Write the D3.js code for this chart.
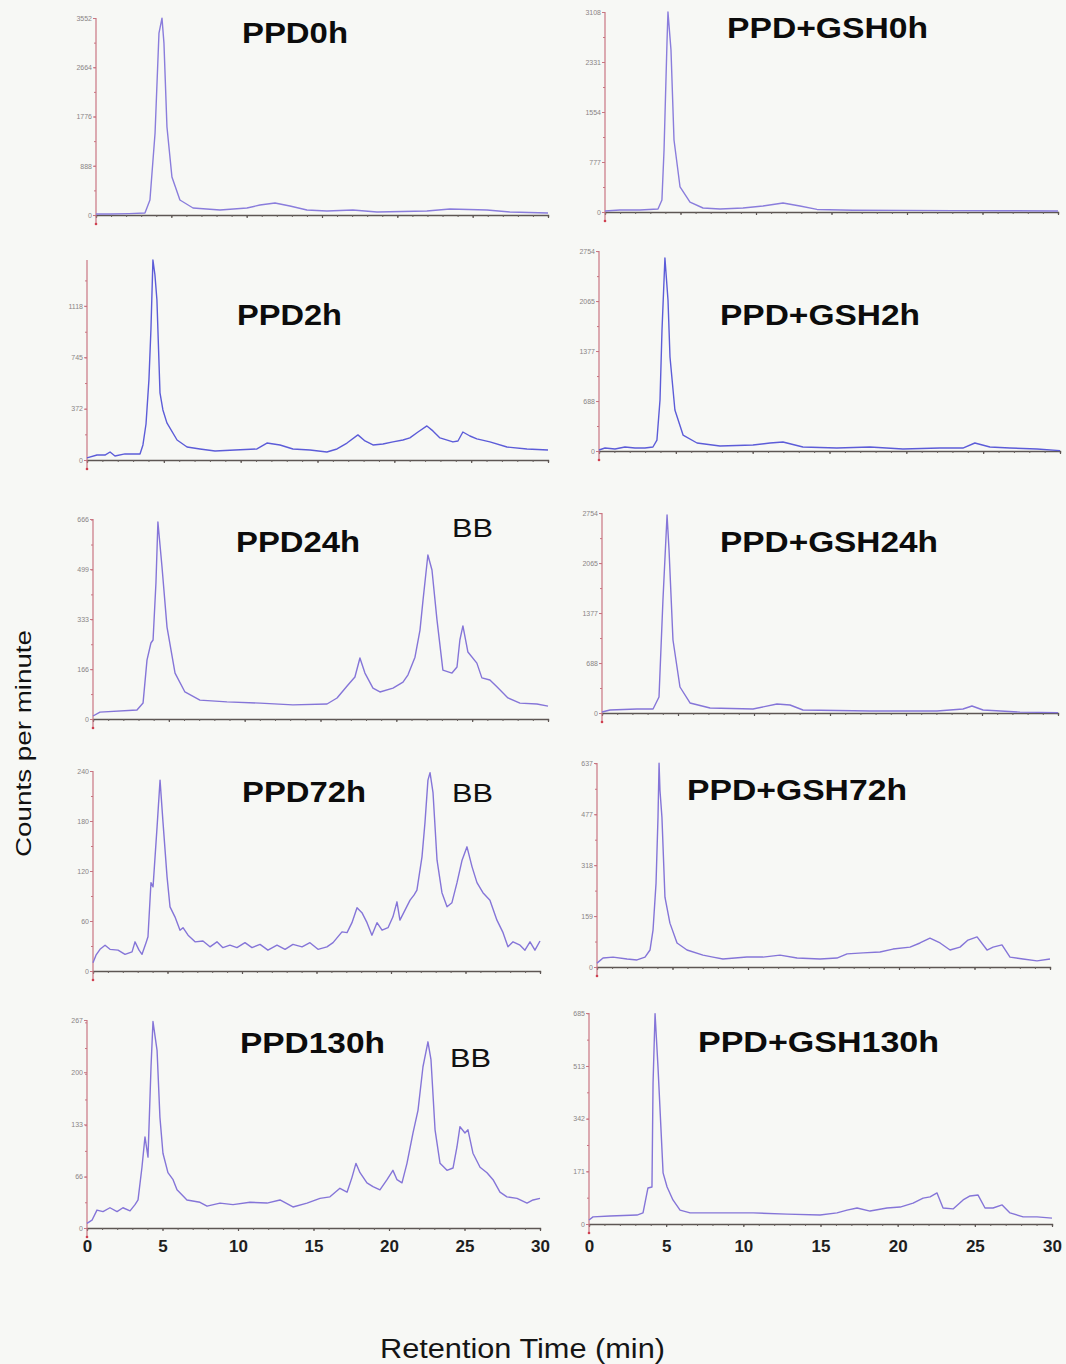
<!DOCTYPE html>
<html>
<head>
<meta charset="utf-8">
<script src="https://cdn.jsdelivr.net/npm/d3@7"></script>
<style>
  html, body { margin: 0; padding: 0; background: #f7f8f5; }
  svg { display: block; }
</style>
</head>
<body>
<svg id="chart" width="1066" height="1364"></svg>
<script>
// Radio-HPLC traces: [retention time (min), counts per minute]
const ppd0h = [[0,18],[0.93,18],[2.2,25],[3.25,36],[3.58,270],[3.92,1478],[4.18,3280],[4.38,3550],[4.51,3099],[4.71,1586],[5.04,685],[5.57,270],[6.44,126],[8.23,90],[10.02,126],[10.88,180],[11.88,216],[12.87,162],[14.0,90],[15.33,72],[17.05,90],[18.65,54],[21.96,72],[23.49,108],[25.95,90],[27.47,54],[30,36]];

const gsh0h = [[0,16],[0.99,31],[2.32,31],[3.51,47],[3.77,186],[3.91,963],[4.11,2673],[4.17,3108],[4.37,2517],[4.57,1119],[4.97,389],[5.63,155],[6.49,62],[7.62,47],[9.14,62],[10.46,93],[11.79,140],[12.91,93],[14.04,40],[16.42,28],[19.74,25],[23.05,22],[26.36,20],[30,15]];

const ppd2h = [[0,15],[0.65,36],[1.17,36],[1.5,58],[1.82,29],[2.47,44],[3.45,44],[3.64,109],[3.84,261],[4.03,581],[4.16,944],[4.29,1450],[4.42,1343],[4.55,1162],[4.75,487],[4.94,363],[5.2,269],[5.86,145],[6.51,94],[7.35,80],[8.33,65],[9.63,73],[11.06,80],[11.71,123],[12.56,109],[13.4,80],[14.51,73],[15.61,58],[16.27,80],[16.92,123],[17.63,182],[18.09,138],[18.61,109],[19.26,116],[19.91,131],[20.56,145],[21.01,160],[21.54,203],[22.12,247],[22.51,211],[22.97,160],[23.81,131],[24.14,138],[24.46,203],[24.92,174],[25.37,153],[26.22,131],[27.33,94],[28.63,80],[30,73]];

const gsh2h = [[0,14],[0.39,41],[1.04,28],[1.69,55],[2.34,41],[2.99,41],[3.51,55],[3.77,151],[3.97,702],[4.1,1666],[4.29,2658],[4.49,2079],[4.62,1294],[4.94,565],[5.47,220],[6.38,110],[7.87,69],[10.02,83],[11.13,110],[11.97,124],[13.27,55],[15.48,41],[17.63,55],[19.78,28],[22.19,41],[23.68,41],[24.46,110],[25.44,55],[26.74,41],[28.5,28],[30,5]];

const ppd24h = [[0,10],[0.46,23],[2.9,30],[3.3,53],[3.56,196],[3.82,253],[3.96,263],[4.15,453],[4.28,656],[4.55,506],[4.88,306],[5.41,153],[6.06,90],[7.05,63],[8.83,57],[11.01,53],[13.18,47],[15.43,50],[16.09,70],[16.81,113],[17.27,140],[17.6,203],[17.93,153],[18.46,103],[18.92,90],[19.78,103],[20.44,123],[20.77,147],[21.23,206],[21.56,296],[21.76,396],[22.08,546],[22.35,496],[22.68,330],[23.07,163],[23.67,153],[24.0,173],[24.19,263],[24.39,310],[24.72,223],[25.31,186],[25.64,137],[26.17,130],[26.63,107],[27.36,70],[28.15,53],[29.27,50],[30,43]];

const gsh24h = [[0,14],[0.53,41],[2.3,55],[3.36,55],[3.75,220],[4.01,1556],[4.28,2726],[4.41,2245],[4.67,1005],[5.13,358],[5.79,138],[7.11,69],[9.93,55],[11.51,124],[12.37,110],[13.22,41],[17.63,28],[22.04,28],[23.75,55],[24.34,96],[25.07,41],[27.5,12],[30,5]];

const ppd72h = [[0,10],[0.2,19],[0.47,26],[0.81,31],[1.14,26],[1.68,25],[2.15,20],[2.62,23],[2.82,35],[3.09,25],[3.29,20],[3.56,34],[3.69,41],[3.89,106],[4.03,101],[4.3,173],[4.5,229],[4.7,178],[4.97,113],[5.17,77],[5.5,65],[5.84,49],[6.04,52],[6.38,43],[6.85,35],[7.38,36],[7.85,29],[8.32,35],[8.72,28],[9.19,31],[9.66,28],[10.2,34],[10.67,28],[11.21,32],[11.74,25],[12.35,31],[12.89,26],[13.42,32],[14.03,29],[14.56,34],[15.1,26],[15.7,29],[16.11,34],[16.71,47],[17.05,46],[17.38,58],[17.72,76],[18.05,70],[18.39,58],[18.72,43],[19.06,58],[19.4,49],[19.8,52],[20.13,65],[20.4,83],[20.6,61],[20.94,73],[21.28,85],[21.54,91],[21.74,97],[22.08,137],[22.28,178],[22.48,229],[22.62,238],[22.82,214],[23.09,133],[23.42,94],[23.76,77],[24.09,82],[24.43,106],[24.77,133],[25.1,149],[25.44,125],[25.77,106],[26.17,94],[26.64,85],[27.11,61],[27.52,46],[27.85,29],[28.19,35],[28.66,31],[28.99,25],[29.33,35],[29.66,25],[30,36]];

const gsh72h = [[0,12],[0.4,28],[1.06,31],[1.99,25],[2.65,22],[3.18,31],[3.51,53],[3.71,115],[3.91,262],[4.04,468],[4.11,636],[4.17,552],[4.3,468],[4.5,218],[4.83,137],[5.3,75],[5.96,53],[7.02,37],[7.68,31],[8.34,25],[9.93,31],[10.99,31],[12.12,37],[13.25,28],[14.77,25],[15.89,28],[16.56,41],[17.62,44],[18.74,47],[19.6,56],[20.73,62],[21.39,75],[22.05,90],[22.72,75],[23.38,53],[24.04,62],[24.57,84],[25.17,94],[25.83,53],[26.23,62],[26.82,69],[27.35,31],[28.21,25],[29.14,19],[30,25]];

const ppd130h = [[0,6],[0.33,10],[0.66,23],[1.06,21],[1.52,26],[1.99,21],[2.38,26],[2.85,22],[3.18,30],[3.38,36],[3.64,78],[3.84,117],[4.04,91],[4.24,207],[4.37,265],[4.64,228],[4.83,142],[5.03,96],[5.36,71],[5.7,62],[5.96,49],[6.62,36],[7.48,33],[7.95,28],[8.81,32],[9.67,30],[10.79,33],[11.92,32],[12.78,36],[13.64,27],[14.57,32],[15.43,38],[16.09,40],[16.75,51],[17.22,46],[17.55,65],[17.81,83],[18.08,71],[18.54,58],[18.94,53],[19.4,49],[19.87,62],[20.26,74],[20.53,62],[20.86,58],[21.19,83],[21.59,122],[21.92,151],[22.25,207],[22.58,239],[22.78,216],[23.05,126],[23.38,83],[23.84,74],[24.24,77],[24.5,104],[24.7,130],[25.03,122],[25.23,126],[25.56,96],[26.03,78],[26.49,71],[26.89,62],[27.35,46],[27.81,40],[28.48,38],[29.14,32],[29.54,36],[30,38]];

const gsh130h = [[0,13],[0.26,23],[1.36,26],[3.11,29],[3.5,36],[3.82,117],[4.08,120],[4.15,458],[4.28,683],[4.47,510],[4.8,166],[5.06,120],[5.44,78],[5.9,45],[6.55,36],[8.49,36],[10.63,36],[12.83,32],[14.97,29],[16.07,36],[16.72,45],[17.37,52],[18.21,42],[19.31,52],[20.16,55],[21.0,68],[21.65,84],[22.1,88],[22.55,101],[22.94,52],[23.59,49],[24.24,78],[24.69,91],[25.21,94],[25.66,52],[26.18,52],[26.77,62],[27.28,36],[28.13,23],[29.03,23],[30,19]];

// Labelled count ticks on each panel's vertical axis
const ticks0h    = [0, 888, 1776, 2664, 3552];
const ticksG0h   = [0, 777, 1554, 2331, 3108];
const ticks2h    = [0, 372, 745, 1118];
const ticksG2h   = [0, 688, 1377, 2065, 2754];
const ticks24h   = [0, 166, 333, 499, 666];
const ticksG24h  = [0, 688, 1377, 2065, 2754];
const ticks72h   = [0, 60, 120, 180, 240];
const ticksG72h  = [0, 159, 318, 477, 637];
const ticks130h  = [0, 66, 133, 200, 267];
const ticksG130h = [0, 171, 342, 513, 685];

const timeTicks = [0, 5, 10, 15, 20, 25, 30];

const titles = ["PPD0h", "PPD+GSH0h", "PPD2h", "PPD+GSH2h", "PPD24h",
                "PPD+GSH24h", "PPD72h", "PPD+GSH72h", "PPD130h", "PPD+GSH130h"];
const series = [ppd0h, gsh0h, ppd2h, gsh2h, ppd24h, gsh24h, ppd72h, gsh72h, ppd130h, gsh130h];
const yTickSets = [ticks0h, ticksG0h, ticks2h, ticksG2h, ticks24h, ticksG24h, ticks72h, ticksG72h, ticks130h, ticksG130h];
const yMaxima = [3552, 3108, 1450, 2754, 666, 2754, 240, 637, 267, 685];
const hasBB = [false, false, false, false, true, false, true, false, true, false];

// Plot frames (pixels): axis origin x0, axis end x1, baseline and top of value range
const frames = [
  {x0: 96,  x1: 548,  yBase: 215,  yTop: 18},
  {x0: 605, x1: 1058, yBase: 212,  yTop: 12},
  {x0: 87,  x1: 548,  yBase: 460,  yTop: 260},
  {x0: 599, x1: 1060, yBase: 451,  yTop: 251},
  {x0: 93,  x1: 548,  yBase: 719,  yTop: 519},
  {x0: 602, x1: 1058, yBase: 713,  yTop: 513},
  {x0: 93,  x1: 540,  yBase: 971,  yTop: 771},
  {x0: 597, x1: 1050, yBase: 967,  yTop: 763},
  {x0: 87,  x1: 540,  yBase: 1228, yTop: 1020, labelPad: 9},
  {x0: 589, x1: 1052, yBase: 1224, yTop: 1013, labelPad: 13}
];
// Title placement: left x, baseline y, rendered width
const titlePos = [
  [242, 43, 106], [727, 38, 201],
  [237, 325, 105], [720, 325, 200],
  [236, 552, 124], [720, 552, 218],
  [242, 802, 124], [687, 800, 220],
  [240, 1053, 145], [698, 1052, 241]
];
const bbPos = [null, null, null, null, [452, 537], null, [452, 802], null, [450, 1067], null];

const traceColors = ["#8a7ddc", "#8a7ddc", "#5c5cd8", "#5c5cd8", "#8575d8",
                     "#8575d8", "#8575d8", "#8575d8", "#8575d8", "#8575d8"];

const svg = d3.select("#chart");
svg.append("rect").attr("width", 1066).attr("height", 1364).attr("fill", "#f7f8f5");

const FONT = "'Liberation Sans', Arial, Helvetica, sans-serif";

series.forEach((data, i) => {
  const f = frames[i];
  const x = d3.scaleLinear().domain([0, 30]).range([f.x0, f.x1]);
  const y = d3.scaleLinear().domain([0, yMaxima[i]]).range([f.yBase, f.yTop]);
  const g = svg.append("g");
  const bottomRow = i >= 8;

  // time axis: minor ticks every minute
  const xMinor = g.append("g").attr("transform", `translate(0,${f.yBase})`)
    .call(d3.axisBottom(x).tickValues(d3.range(0, 31, 1)).tickSize(2).tickFormat(""));
  xMinor.select(".domain").attr("stroke", "#5d5653").attr("stroke-width", 1.3);
  xMinor.selectAll(".tick line").attr("stroke", "#6a6360").attr("stroke-width", 1);

  const xMajor = g.append("g").attr("transform", `translate(0,${f.yBase})`)
    .call(d3.axisBottom(x).tickValues(timeTicks).tickSize(3).tickPadding(f.labelPad || 9)
      .tickFormat(bottomRow ? d3.format("d") : ""));
  xMajor.select(".domain").remove();
  xMajor.selectAll(".tick line").attr("stroke", "#5d5653").attr("stroke-width", 1.2);
  xMajor.selectAll(".tick text")
    .attr("font-family", FONT).attr("font-weight", "bold").attr("font-size", 17)
    .attr("fill", "#1e1e1e");

  // counts axis
  const yMax = yMaxima[i];
  const labelled = yTickSets[i];
  const step = labelled[1];
  const halves = d3.range(step / 2, yMax + 0.01, step / 2);
  const yMinor = g.append("g").attr("transform", `translate(${f.x0},0)`)
    .call(d3.axisLeft(y).tickValues(halves).tickSize(2).tickFormat(""));
  yMinor.select(".domain").remove();
  yMinor.selectAll(".tick line").attr("stroke", "#c97682");

  const yAx = g.append("g").attr("transform", `translate(${f.x0},0)`)
    .call(d3.axisLeft(y).tickValues(labelled).tickSize(3).tickPadding(1).tickFormat(d3.format("d")));
  yAx.select(".domain").remove();
  yAx.selectAll(".tick line").attr("stroke", "#c97682");
  yAx.selectAll(".tick text")
    .attr("font-family", FONT).attr("font-size", 7).attr("fill", "#8a8585");

  g.append("line")
    .attr("x1", f.x0).attr("x2", f.x0)
    .attr("y1", y(0) + 9).attr("y2", y(yMax))
    .attr("stroke", "#c97682").attr("stroke-width", 1.2);
  g.append("circle").attr("cx", f.x0).attr("cy", y(0) + 9).attr("r", 1.3).attr("fill", "#d04050");

  // chromatogram trace
  const line = d3.line().x(d => x(d[0])).y(d => y(d[1]));
  g.append("path").datum(data)
    .attr("d", line)
    .attr("fill", "none")
    .attr("stroke", traceColors[i])
    .attr("stroke-width", 1.4)
    .attr("stroke-linejoin", "round");

  // panel title
  const tp = titlePos[i];
  g.append("text")
    .attr("x", tp[0]).attr("y", tp[1])
    .attr("font-family", FONT).attr("font-weight", "bold").attr("font-size", 29)
    .attr("textLength", tp[2]).attr("lengthAdjust", "spacingAndGlyphs")
    .attr("fill", "#0c0c0c")
    .text(titles[i]);

  if (hasBB[i]) {
    const bp = bbPos[i];
    g.append("text")
      .attr("x", bp[0]).attr("y", bp[1])
      .attr("font-family", FONT).attr("font-size", 25)
      .attr("textLength", 41).attr("lengthAdjust", "spacingAndGlyphs")
      .attr("fill", "#111")
      .text("BB");
  }
});

// shared axis titles
svg.append("text")
  .attr("transform", "translate(31,743.5) rotate(-90)")
  .attr("text-anchor", "middle")
  .attr("font-family", FONT).attr("font-size", 22)
  .attr("textLength", 227).attr("lengthAdjust", "spacingAndGlyphs")
  .attr("fill", "#111")
  .text("Counts per minute");

svg.append("text")
  .attr("x", 380).attr("y", 1358)
  .attr("font-family", FONT).attr("font-size", 27)
  .attr("textLength", 285).attr("lengthAdjust", "spacingAndGlyphs")
  .attr("fill", "#151515")
  .text("Retention Time (min)");
</script>
</body>
</html>
